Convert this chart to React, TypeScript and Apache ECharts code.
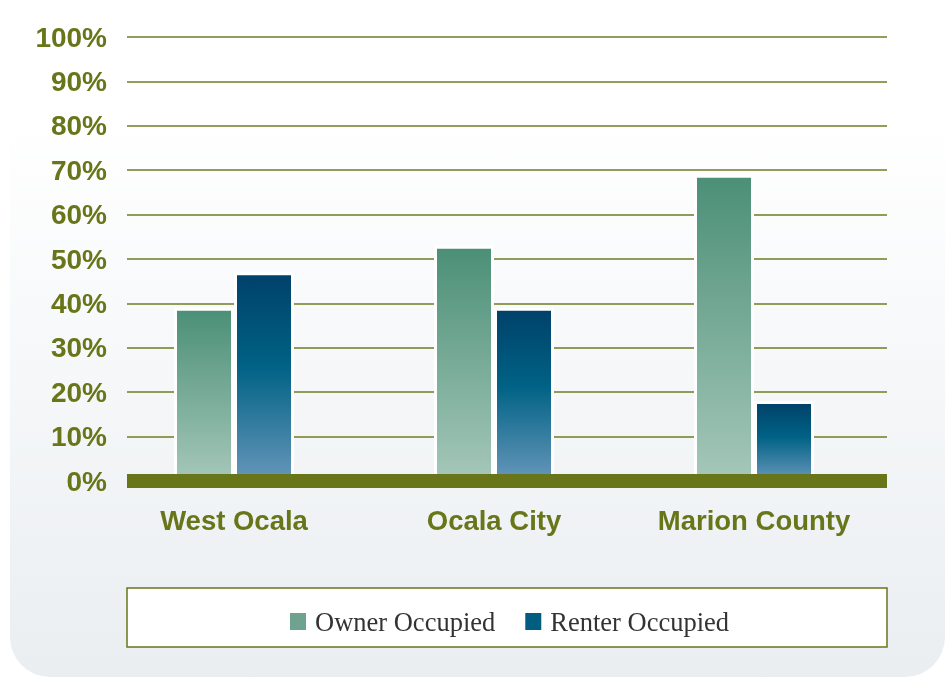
import React, { useEffect, useRef } from "react";
import * as echarts from "echarts";

const categories = ["West Ocala", "Ocala City", "Marion County"];
const ownerOccupied = [39, 53, 69];
const renterOccupied = [47, 39, 18];
const yTicks = [0, 10, 20, 30, 40, 50, 60, 70, 80, 90, 100];
const seriesNames = ["Owner Occupied", "Renter Occupied"];

const OLIVE = "#687619";

export default function App() {
  const ref = useRef<HTMLDivElement>(null);
  useEffect(() => {
    if (!ref.current) return;
    const chart = echarts.init(ref.current, undefined, { renderer: "svg" });
    const ownerGrad = new echarts.graphic.LinearGradient(0, 0, 0, 1, [
      { offset: 0, color: "#4b8f77" },
      { offset: 1, color: "#a5c7ba" },
    ]);
    const renterGrad = new echarts.graphic.LinearGradient(0, 0, 0, 1, [
      { offset: 0, color: "#00416a" },
      { offset: 0.45, color: "#006285" },
      { offset: 1, color: "#6596b9" },
    ]);
    chart.setOption({
      animation: false,
      graphic: [
        {
          type: "rect",
          z: -10,
          shape: { x: 10, y: -60, width: 935, height: 737, r: 40 },
          style: {
            fill: new echarts.graphic.LinearGradient(0, 0, 0, 1, [
              { offset: 0, color: "#ffffff" },
              { offset: 0.25, color: "#ffffff" },
              { offset: 1, color: "#eaeef1" },
            ]),
          },
        },
        {
          type: "rect",
          z: -5,
          shape: { x: 127, y: 588, width: 760, height: 59 },
          style: { fill: "#ffffff", stroke: OLIVE, lineWidth: 1.5 },
        },
      ],
      grid: [
        { left: 127, right: 59, top: 37, bottom: 196 },
        { left: 104, right: 62, top: 37, bottom: 196 },
      ],
      xAxis: [
        {
          gridIndex: 0,
          type: "category",
          data: categories,
          z: 5,
          axisLine: { show: true, lineStyle: { color: OLIVE, width: 14, cap: "butt" } },
          axisTick: { show: false },
          axisLabel: { show: false },
          splitLine: { show: false },
        },
        {
          gridIndex: 1,
          type: "category",
          data: categories,
          axisLine: { show: false },
          axisTick: { show: false },
          axisLabel: {
            margin: 25,
            color: OLIVE,
            fontSize: 27.5,
            fontWeight: "bold",
            fontFamily: "Liberation Sans, Arial, sans-serif",
          },
        },
      ],
      yAxis: [
        {
          gridIndex: 0,
          type: "value",
          min: yTicks[0],
          max: yTicks[yTicks.length - 1],
          interval: 10,
          axisLine: { show: false },
          axisTick: { show: false },
          axisLabel: {
            margin: 20,
            formatter: "{value}%",
            color: OLIVE,
            fontSize: 28,
            fontWeight: "bold",
            fontFamily: "Liberation Sans, Arial, sans-serif",
          },
          splitLine: { show: true, lineStyle: { color: "#6e7d22", width: 1.5 } },
        },
        {
          gridIndex: 1,
          type: "value",
          min: 0,
          max: 100,
          interval: 10,
          show: false,
          splitLine: { show: false },
        },
      ],
      legend: {
        left: 285,
        top: 603,
        itemWidth: 16,
        itemHeight: 17,
        itemGap: 30,
        icon: "rect",
        textStyle: {
          fontFamily: "Liberation Serif, Times New Roman, serif",
          fontSize: 26.5,
          color: "#333333",
          padding: [0, 0, 0, 4],
        },
        data: [
          { name: seriesNames[0], itemStyle: { color: "#6fa38f", borderWidth: 0 } },
          { name: seriesNames[1], itemStyle: { color: "#005e80", borderWidth: 0 } },
        ],
      },
      series: [
        {
          name: seriesNames[0],
          type: "bar",
          xAxisIndex: 1,
          yAxisIndex: 1,
          data: ownerOccupied,
          barWidth: 60,
          barGap: "0%",
          itemStyle: { color: ownerGrad, borderColor: "#ffffff", borderWidth: 3 },
        },
        {
          name: seriesNames[1],
          type: "bar",
          xAxisIndex: 1,
          yAxisIndex: 1,
          data: renterOccupied,
          barWidth: 60,
          barGap: "0%",
          itemStyle: { color: renterGrad, borderColor: "#ffffff", borderWidth: 3 },
        },
      ],
    });
    return () => chart.dispose();
  }, []);
  return (
    <div
      ref={ref}
      style={{ position: "fixed", left: 0, top: 0, width: 946, height: 677 }}
    />
  );
}
